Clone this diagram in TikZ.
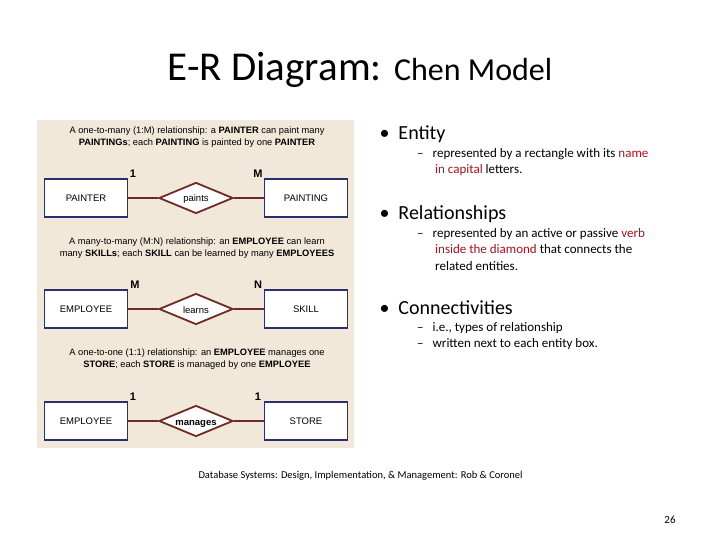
\documentclass[tikz,border=0pt]{standalone}
\usepackage{fontspec}
\setmainfont{Carlito}
\newfontfamily\panelfont{Liberation Sans}
\usetikzlibrary{shapes.geometric}
\definecolor{bg}{HTML}{F2E8DA}
\definecolor{boxblue}{HTML}{2A2F6E}
\definecolor{linkred}{HTML}{6E2A2A}
\definecolor{txtred}{HTML}{A0141E}
\begin{document}
\begin{tikzpicture}[x=1pt,y=-1pt,
  ent/.style={draw=boxblue,line width=1.8pt,fill=white,minimum width=83pt,minimum height=38pt,font=\panelfont\fontsize{9.5}{10}\selectfont},
  rel/.style={diamond,draw=linkred,line width=1.8pt,fill=white,minimum width=74pt,minimum height=31pt,inner sep=0pt,text height=8.5pt,text depth=0.5pt,aspect=2.4,font=\panelfont\fontsize{9.5}{10}\selectfont},
  conn/.style={draw=linkred,line width=1.6pt},
  card/.style={font=\panelfont\bfseries\fontsize{11}{12}\selectfont},
  captext/.style={font=\panelfont\fontsize{9.3}{12.5}\selectfont,align=center},
  bul/.style={anchor=west,font=\fontsize{20}{22}\selectfont},
  sub/.style={anchor=north west,align=left,inner sep=0pt,font=\fontsize{13}{16.5}\selectfont}]
\useasboundingbox (0,0) rectangle (720,540);
\fill[white] (0,0) rectangle (720,540);
\node (title) at (360,70) {\fontsize{41}{44}\selectfont E-R Diagram: \fontsize{32}{34}\selectfont Chen Model};
\fill[bg] (37,120) rectangle (354,448);
% row 1
\node[captext] (c1) at (197,137) {A one-to-many (1:M) relationship: a \textbf{PAINTER} can paint many\\\textbf{PAINTINGs}; each \textbf{PAINTING} is painted by one \textbf{PAINTER}};
\node[ent] (painter) at (86,198) {PAINTER};
\node[ent] (painting) at (306,198) {PAINTING};
\node[rel] (paints) at (196,198) {paints};
\draw[conn] (painter) -- (paints); \draw[conn] (paints) -- (painting);
\node[card] (l11) at (133,174) {1};
\node[card] (l12) at (258,174) {M};
% row 2
\node[captext] (c2) at (197,248) {A many-to-many (M:N) relationship: an \textbf{EMPLOYEE} can learn\\many \textbf{SKILLs}; each \textbf{SKILL} can be learned by many \textbf{EMPLOYEES}};
\node[ent] (emp1) at (86,309) {EMPLOYEE};
\node[ent] (skill) at (306,309) {SKILL};
\node[rel] (learns) at (196,309) {learns};
\draw[conn] (emp1) -- (learns); \draw[conn] (learns) -- (skill);
\node[card] (l21) at (135,285) {M};
\node[card] (l22) at (258,285) {N};
% row 3
\node[captext] (c3) at (197,359) {A one-to-one (1:1) relationship: an \textbf{EMPLOYEE} manages one\\\textbf{STORE}; each \textbf{STORE} is managed by one \textbf{EMPLOYEE}};
\node[ent] (emp2) at (86,421) {EMPLOYEE};
\node[ent] (store) at (306,421) {STORE};
\node[rel] (manages) at (196,421) {\textbf{manages}};
\draw[conn] (emp2) -- (manages); \draw[conn] (manages) -- (store);
\node[card] (l31) at (133,397) {1};
\node[card] (l32) at (258,397) {1};
% bullets
\node[bul] (b1) at (376,134) {\textbullet\hspace{9pt}Entity};
\node[sub] (s1a) at (417,148) {--\hspace{9pt}represented by a rectangle with its \textcolor{txtred}{name}\\\hspace{18pt}\textcolor{txtred}{in capital} letters.};
\node[bul] (b2) at (376,214) {\textbullet\hspace{9pt}Relationships};
\node[sub] (s2a) at (417,228) {--\hspace{9pt}represented by an active or passive \textcolor{txtred}{verb}\\\hspace{18pt}\textcolor{txtred}{inside the diamond} that connects the\\\hspace{18pt}related entities.};
\node[bul] (b3) at (376,308) {\textbullet\hspace{9pt}Connectivities};
\node[sub] (s3a) at (417,322) {--\hspace{9pt}i.e., types of relationship\\--\hspace{9pt}written next to each entity box.};
\node[anchor=west,font=\fontsize{10.5}{11}\selectfont] (foot) at (195,476) {Database Systems: Design, Implementation, \& Management: Rob \& Coronel};
\node[font=\fontsize{11}{12}\selectfont] (pg) at (670,520) {26};
\end{tikzpicture}
\end{document}
